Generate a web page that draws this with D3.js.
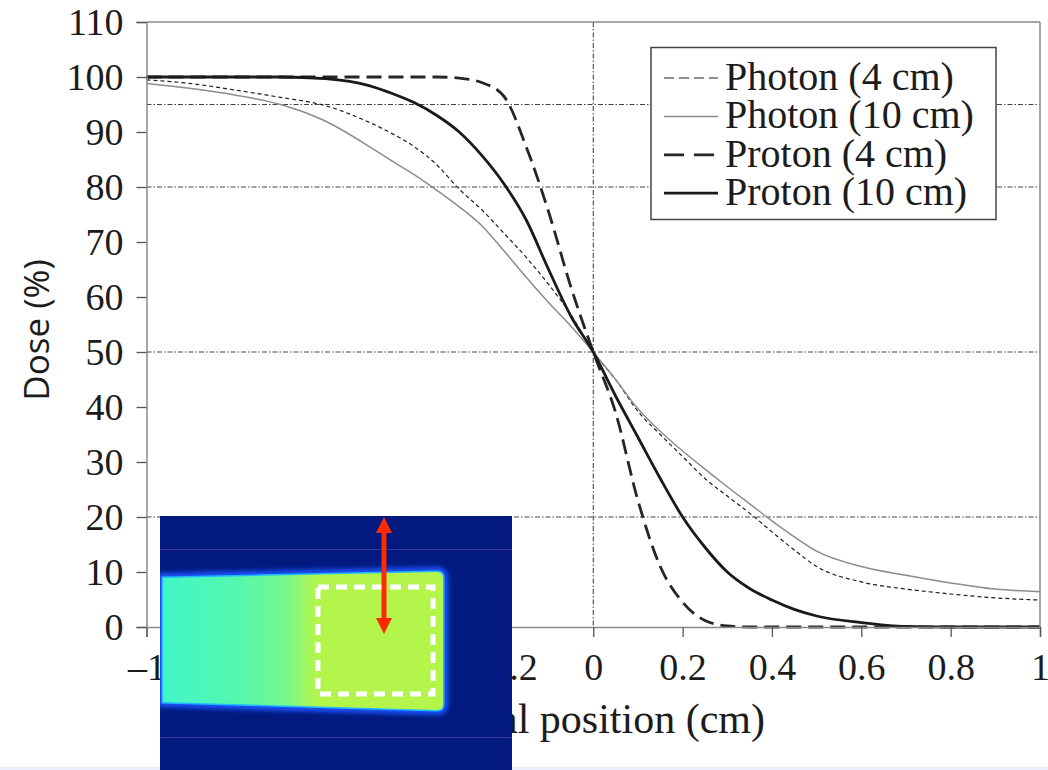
<!DOCTYPE html>
<html><head><meta charset="utf-8">
<script src="https://cdn.jsdelivr.net/npm/d3@7"></script>
<style>
html,body{margin:0;padding:0;background:#fff;}
svg{display:block;}
</style></head>
<body>
<svg id="chart" width="1048" height="770"></svg>
<script>
// Lateral dose profiles (cm vs % dose)
const positions = [-1, -0.9, -0.8, -0.7, -0.6, -0.5, -0.45, -0.4, -0.35, -0.3, -0.25, -0.2, -0.15, -0.1, -0.05,
                   0, 0.05, 0.1, 0.15, 0.2, 0.25, 0.3, 0.35, 0.4, 0.45, 0.5, 0.6, 0.7, 0.8, 0.9, 1];
const photon4  = [99.5, 98.8, 97.6, 96.3, 94.8, 91.7, 89.7, 87.3, 84.0, 79.6, 75.9, 71.6, 67.2, 62.3, 56.8,
                  50, 45.0, 39.2, 35.0, 31.0, 27.0, 23.8, 20.7, 17.3, 14.0, 11.0, 8.2, 6.9, 6.0, 5.3, 4.9];
const photon10 = [98.8, 97.9, 96.7, 95.0, 92.0, 87.3, 84.7, 82.2, 79.4, 76.4, 73.0, 68.4, 63.6, 59.0, 54.7,
                  50, 45.0, 39.7, 35.6, 32.0, 28.7, 25.5, 22.4, 19.3, 16.4, 13.8, 11.0, 9.4, 8.0, 6.9, 6.4];
const proton4  = [100, 100, 100, 100, 100, 100, 100, 100, 100, 99.8, 99.0, 96.5, 87.3, 75.5, 61.8,
                  50, 39.0, 23.0, 11.0, 4.5, 1.2, 0.2, 0, 0, 0, 0, 0, 0, 0, 0, 0];
const proton10 = [100, 100, 100, 100, 99.7, 98.4, 97.0, 95.3, 93.0, 90.0, 85.8, 80.6, 74.0, 65.0, 56.5,
                  50, 42.0, 34.5, 27.0, 20.0, 14.5, 10.0, 7.0, 4.9, 3.2, 2.0, 0.8, 0.1, 0, 0, 0];
const seriesNames = ["Photon (4 cm)", "Photon (10 cm)", "Proton (4 cm)", "Proton (10 cm)"];
const xTicks = [-1, -0.8, -0.6, -0.4, -0.2, 0, 0.2, 0.4, 0.6, 0.8, 1];
const yTicks = [0, 10, 20, 30, 40, 50, 60, 70, 80, 90, 100, 110];
const refLevels = [95, 80, 50, 20];
const refPositions = [0];
const xTitle = "Lateral position (cm)";
const yTitle = "Dose (%)";

const svg = d3.select("#chart");
const W = 1048, H = 770;
const plot = {left: 146.5, right: 1040, top: 22, bottom: 627};

const x = d3.scaleLinear().domain([-1, 1]).range([plot.left, plot.right]);
const y = d3.scaleLinear().domain([0, 110]).range([plot.bottom, plot.top]);

const serif = "'Liberation Serif', 'Times New Roman', serif";
const ink = "#1c1c1c";

const styles = [
  {stroke: "#1e1e1e", width: 1.2, dash: "4,3", key: "10,5"},
  {stroke: "#8c8c8c", width: 1.5, dash: null, key: null},
  {stroke: "#262626", width: 2.8, dash: "15,7", key: "20,10"},
  {stroke: "#1a1a1a", width: 2.8, dash: null, key: null}
];
const seriesValues = [photon4, photon10, proton4, proton10];

// reference grid lines (dash-dot)
const gridDash = "5,2,1.5,2";
svg.append("g").selectAll("line").data(refLevels).join("line")
  .attr("x1", plot.left).attr("x2", plot.right)
  .attr("y1", d => y(d)).attr("y2", d => y(d))
  .attr("stroke", "#444").attr("stroke-width", 1).attr("stroke-dasharray", gridDash);
svg.append("g").selectAll("line").data(refPositions).join("line")
  .attr("x1", d => x(d)).attr("x2", d => x(d))
  .attr("y1", plot.top).attr("y2", plot.bottom)
  .attr("stroke", "#333").attr("stroke-width", 1).attr("stroke-dasharray", gridDash);

// dose curves
const line = d3.line()
  .x((d, i) => x(positions[i]))
  .y(d => y(d))
  .curve(d3.curveMonotoneX);
svg.append("g").selectAll("path").data(seriesValues).join("path")
  .attr("d", d => line(d))
  .attr("fill", "none")
  .attr("stroke", (d, i) => styles[i].stroke)
  .attr("stroke-width", (d, i) => styles[i].width)
  .attr("stroke-dasharray", (d, i) => styles[i].dash)
  .attr("stroke-linejoin", "round");

// frame: top and right edges
svg.append("line").attr("x1", plot.left).attr("x2", plot.right).attr("y1", plot.top).attr("y2", plot.top)
  .attr("stroke", "#8a8a8a").attr("stroke-width", 1.5);
svg.append("line").attr("x1", plot.right).attr("x2", plot.right).attr("y1", plot.top).attr("y2", plot.bottom)
  .attr("stroke", "#8a8a8a").attr("stroke-width", 1.5);

// axes
const fmtX = d => d === 0 ? "0" : (d < 0 ? "\u2013" : "") + (Math.abs(d) === 1 ? "1" : d3.format(".1f")(Math.abs(d)));
const xAxis = svg.append("g").attr("transform", `translate(0,${plot.bottom})`)
  .call(d3.axisBottom(x).tickValues(xTicks).tickSize(10).tickPadding(16).tickFormat(fmtX));
const yAxis = svg.append("g").attr("transform", `translate(${plot.left},0)`)
  .call(d3.axisLeft(y).tickValues(yTicks).tickSize(10).tickPadding(13).tickFormat(d3.format("d")));
[xAxis, yAxis].forEach(a => {
  a.select(".domain").attr("stroke", "#8a8a8a").attr("stroke-width", 1.5);
  a.selectAll(".tick line").attr("stroke", "#555").attr("stroke-width", 1.3);
  a.selectAll(".tick text").attr("fill", ink).attr("font-family", serif).attr("font-size", 38);
});
xAxis.selectAll(".tick text").attr("dy", "0.71em");
yAxis.selectAll(".tick text").attr("dy", "0.34em");

// axis titles
svg.append("text").attr("x", 765).attr("y", 733).attr("text-anchor", "end")
  .attr("font-family", serif).attr("font-size", 42).attr("fill", ink).text(xTitle);
svg.append("text").attr("transform", "translate(49,330) rotate(-90)").attr("text-anchor", "middle")
  .attr("font-family", "'Open Sans', 'Noto Sans', sans-serif").attr("font-size", 35).attr("fill", ink).text(yTitle);

// legend
const lg = svg.append("g");
lg.append("rect").attr("x", 651).attr("y", 47.5).attr("width", 345).attr("height", 172)
  .attr("fill", "#fff").attr("stroke", "#444").attr("stroke-width", 1.5);
const rows = lg.selectAll("g.row").data(seriesNames).join("g").attr("class", "row")
  .attr("transform", (d, i) => `translate(0,${90 + i * 38.4})`);
rows.append("line").attr("x1", 664).attr("x2", 718).attr("y1", -12).attr("y2", -12)
  .attr("stroke", (d, i) => styles[i].stroke)
  .attr("stroke-width", (d, i) => styles[i].width)
  .attr("stroke-dasharray", (d, i) => styles[i].key);
rows.append("text").attr("x", 725).attr("y", 0)
  .attr("font-family", serif).attr("font-size", 40).attr("fill", ink).text(d => d);

// inset: beam dose map
const defs = svg.append("defs");
const grad = defs.append("linearGradient").attr("id", "beamFill").attr("x1", "0").attr("x2", "1").attr("y1", "0").attr("y2", "0");
[["0%", "#40f6c8"], ["28%", "#58f7ac"], ["45%", "#78f888"], ["52%", "#a6f65a"], ["56%", "#b2f54c"], ["100%", "#b4f54a"]]
  .forEach(([o, c]) => grad.append("stop").attr("offset", o).attr("stop-color", c));
defs.append("filter").attr("id", "glow").attr("x", "-20%").attr("y", "-20%").attr("width", "140%").attr("height", "140%")
  .append("feGaussianBlur").attr("stdDeviation", 2.4);
defs.append("filter").attr("id", "soft").append("feGaussianBlur").attr("stdDeviation", 0.6);
defs.append("clipPath").attr("id", "insetClip").append("rect")
  .attr("x", 160).attr("y", 516).attr("width", 352).attr("height", 254);

const inset = svg.append("g").attr("clip-path", "url(#insetClip)");
inset.append("rect").attr("x", 160).attr("y", 516).attr("width", 352).attr("height", 254).attr("fill", "#02197f");
inset.append("line").attr("x1", 160).attr("x2", 512).attr("y1", 549.5).attr("y2", 549.5).attr("stroke", "#3a3590").attr("stroke-width", 1);
inset.append("line").attr("x1", 160).attr("x2", 512).attr("y1", 737.5).attr("y2", 737.5).attr("stroke", "#3a3590").attr("stroke-width", 1);
const beam = "M163,578 L437,572 Q443,572 443,578 L443,704 Q443,710 437,710 L163,702 Z";
inset.append("path").attr("d", beam).attr("fill", "#1a4dff").attr("stroke", "#1a55ff").attr("stroke-width", 10)
  .attr("filter", "url(#glow)");
inset.append("path").attr("d", beam).attr("fill", "none").attr("stroke", "#22b8ff").attr("stroke-width", 3)
  .attr("filter", "url(#soft)");
inset.append("path").attr("d", beam).attr("fill", "url(#beamFill)").attr("filter", "url(#soft)");
inset.append("rect").attr("x", 318).attr("y", 587).attr("width", 115).attr("height", 107)
  .attr("fill", "none").attr("stroke", "#fff").attr("stroke-width", 5).attr("stroke-dasharray", "11,7");
// red double arrow
const arrow = inset.append("g").attr("fill", "#ff2a00");
arrow.append("rect").attr("x", 381.5).attr("y", 528).attr("width", 5).attr("height", 94);
arrow.append("path").attr("d", "M384,517 L392,533 L376,533 Z");
arrow.append("path").attr("d", "M384,634 L392,618 L376,618 Z");

// page strip at the bottom edge
svg.insert("rect", "g").attr("x", 0).attr("y", 767).attr("width", W).attr("height", 3).attr("fill", "#eceefb");
</script>
</body></html>
